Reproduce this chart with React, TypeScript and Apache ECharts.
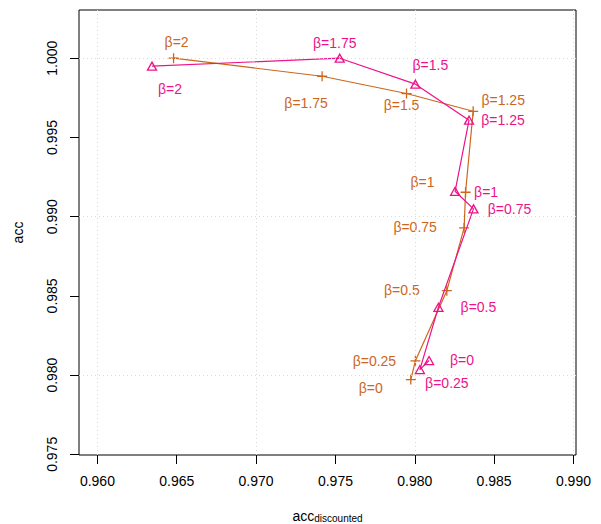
import React, { useEffect, useRef } from "react";
import * as echarts from "echarts";

const betas = [0, 0.25, 0.5, 0.75, 1, 1.25, 1.5, 1.75, 2];
const orangeX = [0.97975, 0.98004, 0.98202, 0.98311, 0.9832, 0.98368, 0.97948, 0.97416, 0.9648];
const orangeY = [0.97972, 0.9809, 0.98533, 0.98929, 0.99154, 0.99665, 0.99777, 0.99886, 1.0];
const pinkX = [0.9809, 0.98032, 0.98149, 0.9837, 0.98254, 0.98342, 0.98004, 0.97527, 0.96344];
const pinkY = [0.98092, 0.98035, 0.98428, 0.99049, 0.9916, 0.99609, 0.99836, 1.0, 0.9995];
const xTicks = [0.96, 0.965, 0.97, 0.975, 0.98, 0.985, 0.99];
const yTicks = [0.975, 0.98, 0.985, 0.99, 0.995, 1.0];

// label offsets in pixels (style)
const orangeLabelOffsets = [[-40, 8], [-41, 0], [-45, -1], [-49, -1], [-43, -10], [30, -11], [-5, 11], [-16, 27], [3, -16]];
const pinkLabelOffsets = [[33, -1], [27, 13], [40, 0], [36, 0], [31, 1], [34, 0], [15, -19], [-5, -15], [18, 23]];

const ORANGE = "#CD661D";
const PINK = "#EE1289";
const FONT = "Liberation Sans";

export default function App() {
  const ref = useRef<HTMLDivElement>(null);
  useEffect(() => {
    document.body.style.margin = "0";
    const chart = echarts.init(ref.current!, null, { renderer: "svg" });
    const mk = (xs: number[], ys: number[], offs: number[][], color: string) =>
      xs.map((x, i) => ({
        value: [x, ys[i]],
        label: {
          show: true,
          position: "inside",
          offset: offs[i],
          formatter: "β=" + betas[i],
          color,
          fontSize: 14,
          fontFamily: FONT,
        },
      }));
    const gridLine = { color: "#D9D9D9", type: [1, 3], width: 1 };
    chart.setOption({
      animation: false,
      grid: {
        left: 79,
        top: 10,
        width: 497,
        height: 445,
        containLabel: false,
        outerBoundsMode: "none",
        show: true,
        borderColor: "#000",
        borderWidth: 1,
        backgroundColor: "transparent",
      },
      xAxis: {
        type: "value",
        min: 0.95884,
        max: 0.99016,
        axisLine: { show: false },
        splitLine: { show: false },
        axisTick: { show: true, length: 9, inside: false, customValues: xTicks, lineStyle: { color: "#000" } },
        axisLabel: {
          customValues: xTicks,
          formatter: (v: number) => v.toFixed(3),
          margin: 19,
          fontSize: 14,
          fontFamily: FONT,
          color: "#000",
        },
        name: "{a|acc}{b|discounted}",
        nameLocation: "middle",
        nameGap: 54,
        nameTextStyle: {
          rich: {
            a: { fontSize: 14, fontFamily: FONT, color: "#000", lineHeight: 14, padding: [0, 0, 3, 0], verticalAlign: "top" },
            b: { fontSize: 10, fontFamily: FONT, color: "#000", lineHeight: 10, verticalAlign: "bottom" },
          },
        },
      },
      yAxis: {
        type: "value",
        min: 0.974958,
        max: 1.003042,
        axisLine: { show: false },
        splitLine: { show: false },
        axisTick: { show: true, length: 9, inside: false, customValues: yTicks, lineStyle: { color: "#000" } },
        axisLabel: {
          customValues: yTicks,
          formatter: (v: number) => v.toFixed(3),
          rotate: 90,
          margin: 20,
          fontSize: 14,
          fontFamily: FONT,
          color: "#000",
        },
        name: "acc",
        nameLocation: "middle",
        nameRotate: 90,
        nameGap: 54,
        nameTextStyle: { fontSize: 14, fontFamily: FONT, color: "#000" },
      },
      series: [
        {
          type: "line",
          data: [],
          z: 1,
          silent: true,
          markLine: {
            silent: true,
            symbol: "none",
            label: { show: false },
            lineStyle: gridLine,
            data: [
              ...xTicks.map((v) => ({ xAxis: v })),
              ...yTicks.map((v) => ({ yAxis: v })),
            ],
          },
        },
        {
          type: "line",
          z: 3,
          data: mk(orangeX, orangeY, orangeLabelOffsets, ORANGE),
          symbol: "path://M5,0L5,10M0,5L10,5",
          symbolSize: 10,
          showAllSymbol: true,
          lineStyle: { color: ORANGE, width: 1.2 },
          itemStyle: { color: "transparent", borderColor: ORANGE, borderWidth: 1.3 },
        },
        {
          type: "line",
          z: 4,
          data: mk(pinkX, pinkY, pinkLabelOffsets, PINK),
          symbol: "triangle",
          symbolSize: [9, 8],
          showAllSymbol: true,
          lineStyle: { color: PINK, width: 1.2 },
          itemStyle: { color: "transparent", borderColor: PINK, borderWidth: 1.3 },
        },
      ],
    });
    return () => chart.dispose();
  }, []);
  return <div ref={ref} style={{ width: 601, height: 524 }} />;
}
